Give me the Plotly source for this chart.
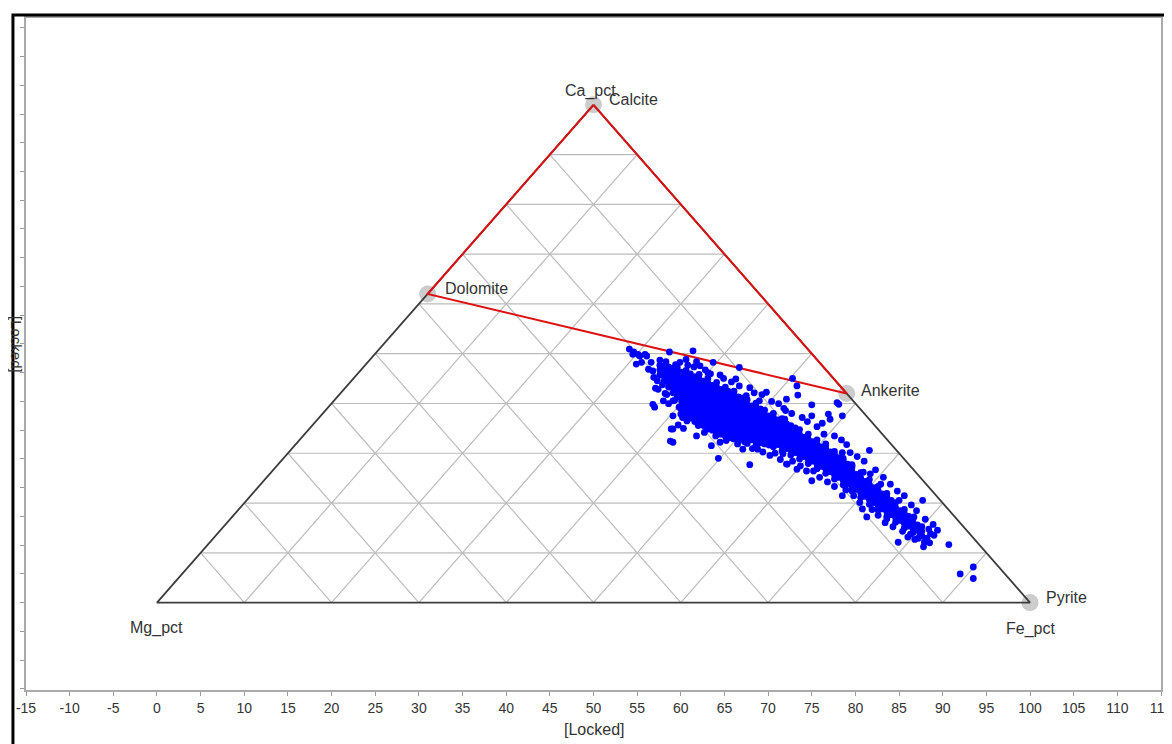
import math
import plotly.graph_objects as go

# ---------------- data ----------------
vertex_labels = ["Ca_pct", "Mg_pct", "Fe_pct"]
minerals = ["Calcite", "Dolomite", "Ankerite", "Pyrite"]
mineral_ca = [1.0, 0.62, 0.42, 0.0]
mineral_mg = [0.0, 0.38, 0.0, 0.0]
mineral_fe = [0.0, 0.0, 0.58, 1.0]

x_tickvals = list(range(-15, 120, 5))
x_ticktext = ["-15", "-10", "-5", "0", "5", "10", "15", "20", "25", "30", "35", "40",
              "45", "50", "55", "60", "65", "70", "75", "80", "85", "90", "95", "100",
              "105", "110", "115"]
y_tickvals = list(range(-15, 105, 5))

# dense core of samples (x position, list of y values)
core_x = [57.6, 58.1, 58.6, 59.1, 59.6, 60.1, 60.6, 61.1, 61.6, 62.1, 62.6, 63.1, 63.6,
          64.1, 64.6, 65.1, 65.6, 66.1, 66.6, 67.1, 67.6, 68.1, 68.6, 69.1, 69.6, 70.1,
          70.6, 71.1, 71.6, 72.1, 72.6, 73.1, 73.6, 74.1, 74.6, 75.1, 75.6, 76.1, 76.6,
          77.1, 77.6, 78.1, 78.6, 79.1, 79.6, 80.1, 80.6, 81.1, 81.6, 82.1, 82.6, 83.1,
          83.6, 84.1, 84.6, 85.1, 85.6, 86.1, 86.6, 87.1, 87.6]
core_y = [
    [39.6, 40.5, 41.3],
    [38.6, 39.5, 40.3, 41.1],
    [37.5, 38.4, 39.3, 40.1, 41.0],
    [36.5, 37.4, 38.3, 39.1, 40.0, 40.8],
    [35.8, 36.6, 37.5, 38.4, 39.2, 40.1, 40.9],
    [34.1, 35.0, 35.8, 36.7, 37.6, 38.4, 39.3, 40.1],
    [32.6, 33.5, 34.4, 35.2, 36.1, 36.9, 37.8, 38.7, 39.5, 40.4],
    [32.1, 33.0, 33.8, 34.6, 35.5, 36.4, 37.2, 38.1, 39.0, 39.8],
    [31.5, 32.4, 33.3, 34.1, 35.0, 35.9, 36.7, 37.6, 38.4, 39.3],
    [31.1, 32.0, 32.9, 33.7, 34.6, 35.5, 36.3, 37.2, 38.0, 38.9, 39.7],
    [30.8, 31.6, 32.5, 33.3, 34.2, 35.1, 35.9, 36.8, 37.6, 38.5],
    [30.4, 31.3, 32.1, 33.0, 33.9, 34.7, 35.6, 36.4, 37.3, 38.2, 39.0],
    [30.0, 30.9, 31.8, 32.6, 33.5, 34.4, 35.2, 36.1, 36.9, 37.8],
    [29.7, 30.6, 31.5, 32.3, 33.2, 34.0, 34.9, 35.8, 36.6, 37.5, 38.3],
    [29.3, 30.2, 31.1, 31.9, 32.8, 33.7, 34.5, 35.4, 36.2, 37.1],
    [29.0, 29.9, 30.7, 31.6, 32.4, 33.3, 34.2, 35.0, 35.9, 36.7, 37.5],
    [28.7, 29.6, 30.4, 31.3, 32.1, 33.0, 33.9, 34.7, 35.6, 36.4],
    [29.2, 30.1, 31.0, 31.8, 32.7, 33.5, 34.4, 35.2, 36.1, 36.8],
    [28.2, 29.0, 29.8, 30.7, 31.5, 32.4, 33.2, 34.1, 34.9, 35.8],
    [28.8, 29.6, 30.5, 31.3, 32.2, 33.0, 33.9, 34.7, 35.6],
    [27.7, 28.5, 29.3, 30.2, 31.0, 31.9, 32.7, 33.6, 34.4, 35.3],
    [28.3, 29.1, 30.0, 30.8, 31.7, 32.5, 33.4, 34.2],
    [27.3, 28.1, 28.9, 29.8, 30.6, 31.5, 32.3, 33.2, 34.0, 34.7],
    [27.8, 28.6, 29.5, 30.3, 31.2, 32.0, 32.9, 33.7],
    [27.6, 28.4, 29.3, 30.1, 31.0, 31.8, 32.7, 33.5],
    [27.4, 28.2, 29.1, 29.9, 30.8, 31.6, 32.5],
    [27.1, 27.9, 28.8, 29.6, 30.5, 31.3, 32.2, 32.9],
    [27.5, 28.4, 29.2, 30.1, 30.9, 31.8],
    [26.4, 27.2, 28.1, 28.9, 29.8, 30.6, 31.5, 32.0],
    [26.8, 27.7, 28.5, 29.4, 30.2, 31.1],
    [25.7, 26.5, 27.4, 28.2, 29.1, 29.9, 30.8],
    [26.1, 27.0, 27.8, 28.7, 29.5, 30.4],
    [25.0, 25.8, 26.7, 27.5, 28.4, 29.2, 30.1],
    [25.4, 26.3, 27.1, 28.0, 28.8],
    [24.2, 25.0, 25.9, 26.7, 27.6, 28.4, 29.3],
    [24.6, 25.5, 26.3, 27.2, 28.0],
    [23.3, 24.1, 25.0, 25.8, 26.7, 27.5, 28.3],
    [23.7, 24.6, 25.4, 26.3, 27.1],
    [22.5, 23.3, 24.2, 25.0, 25.9, 26.7, 27.3],
    [22.8, 23.7, 24.5, 25.4, 26.2],
    [21.5, 22.3, 23.2, 24.0, 24.9, 25.7, 26.3],
    [21.8, 22.7, 23.5, 24.4, 25.2],
    [20.5, 21.3, 22.2, 23.0, 23.9, 24.7, 25.1],
    [20.7, 21.6, 22.4, 23.3, 24.1],
    [19.4, 20.2, 21.1, 21.9, 22.8, 23.6, 24.0],
    [19.7, 20.6, 21.4, 22.3],
    [18.3, 19.1, 20.0, 20.8, 21.7, 22.6],
    [18.5, 19.4, 20.2, 21.1],
    [17.1, 17.9, 18.8, 19.6, 20.5, 21.4],
    [17.4, 18.3, 19.1, 20.0],
    [16.1, 16.9, 17.8, 18.6, 19.5, 20.2],
    [16.3, 17.2, 18.0, 18.9],
    [15.0, 15.8, 16.7, 17.5, 18.3, 19.0],
    [15.3, 16.2, 17.0, 17.8],
    [14.0, 14.8, 15.7, 16.5, 17.4],
    [14.3, 15.2, 16.0],
    [13.0, 13.8, 14.7, 15.5, 16.2],
    [13.3, 14.2, 15.0],
    [12.2, 13.0, 13.8, 14.6],
    [12.7, 13.5],
    [11.6, 12.4, 13.2],
]

# scattered samples around the core
scatter_x = [54.1, 54.5, 55.1, 55.9, 54.9, 55.5, 56.6, 56.8, 57.6, 58.7, 61.4, 61.8, 66.7,
             72.8, 73.4, 72.1, 69.8, 66.7, 65.4, 64.5, 63.1, 57.4, 57.1, 56.8, 57.0, 58.0,
             59.1, 59.1, 59.1, 59.1, 59.7, 60.3, 61.8, 63.1, 63.5, 64.3, 64.5, 66.0, 67.1,
             67.9, 68.8, 70.2, 71.7, 72.1, 70.6, 67.5, 69.0, 59.9, 60.6, 62.2, 63.7, 60.1,
             61.0, 75.0, 78.1, 78.5, 76.9, 77.1, 75.0, 72.0, 72.7, 71.9, 76.4, 76.6, 78.5,
             79.4, 81.6, 72.2, 73.3, 75.0, 75.2, 78.5, 80.8, 81.3, 83.6, 85.0, 86.7, 87.7,
             84.9, 86.0, 87.4, 88.4, 89.0, 87.8, 87.9, 90.7, 92.0, 93.5, 93.5, 81.7, 79.6,
             82.9, 80.9, 88.6, 88.2, 86.8, 73.3, 77.9, 54.6, 55.3, 56.1, 58.9, 58.8,
             58.3, 59.4, 60.8, 61.5, 62.8, 63.4, 64.9, 65.8, 66.3, 67.9, 68.4, 69.3, 70.4,
             71.2, 71.8, 73.9, 74.5, 75.6, 76.2, 77.6, 78.4, 79.0, 80.2, 81.0, 82.3, 83.2,
             84.0, 84.8, 85.6, 86.4, 87.0, 88.0, 88.9, 89.4,
             58.2, 58.6, 60.0, 60.7, 62.0, 62.7, 64.0, 65.2, 66.5, 67.3, 68.2, 69.4, 70.8,
             71.4, 72.8, 73.7, 74.4, 75.9, 76.8, 77.6, 78.9, 79.8, 80.5, 81.9, 82.6, 83.4,
             84.3, 85.4, 86.3, 87.2, 88.5,
             57.9, 58.4, 59.3, 59.8, 60.4, 56.3, 56.9, 57.3, 60.2]
scatter_y = [44.1, 43.2, 43.2, 43.2, 41.5, 41.8, 41.8, 40.3, 42.2, 43.6, 43.8, 41.9, 40.9,
             39.0, 36.1, 35.4, 36.6, 37.7, 36.8, 39.6, 40.0, 37.1, 37.3, 34.5, 34.0, 35.1,
             35.1, 32.5, 30.2, 27.9, 30.9, 30.3, 29.0, 30.2, 27.3, 25.1, 27.9, 28.5, 26.7,
             24.0, 26.7, 25.6, 25.9, 24.1, 27.4, 36.0, 35.1, 41.8, 42.3, 41.2, 41.8, 33.4,
             32.8, 34.4, 34.5, 32.5, 32.8, 31.9, 32.5, 33.4, 32.9, 31.9, 29.3, 27.6, 26.1,
             26.1, 26.5, 24.1, 23.2, 21.2, 22.9, 18.6, 16.3, 14.9, 14.6, 17.8, 14.9, 17.8,
             10.5, 11.4, 12.0, 12.8, 11.7, 9.7, 10.5, 10.1, 5.0, 6.2, 4.2, 22.4, 23.8,
             20.6, 22.7, 12.0, 11.2, 11.0, 37.7, 34.8, 43.6, 42.9, 42.9, 30.2, 28.1,
             41.9, 41.4, 41.3, 41.0, 40.5, 39.8, 39.0, 38.4, 38.9, 37.4, 36.5, 36.2, 35.0,
             34.6, 33.8, 32.2, 31.5, 30.6, 31.2, 29.0, 28.3, 27.5, 25.4, 24.6, 23.1, 21.8,
             20.6, 19.4, 18.6, 17.0, 16.0, 14.5, 13.6, 12.6,
             36.4, 34.6, 32.8, 31.6, 30.8, 29.6, 29.0, 28.2, 27.6, 28.0, 26.8, 26.2, 26.0,
             24.9, 24.6, 23.8, 22.9, 21.8, 21.0, 20.2, 19.6, 18.6, 17.4, 16.2, 15.2, 13.9,
             13.2, 12.4, 11.9, 11.2, 10.4,
             37.9, 36.2, 35.2, 34.0, 33.3, 40.6, 39.2, 38.6, 32.2]

# ---------------- helpers ----------------
H = 100 * math.sqrt(3) / 2


def tern_xy(ca, mg, fe):
    s = ca + mg + fe
    return 100 * fe / s + 50 * ca / s, H * ca / s


sample_x, sample_y = [], []
for cx, ys in zip(core_x, core_y):
    for yv in ys:
        sample_x.append(cx)
        sample_y.append(yv)
sample_x += scatter_x
sample_y += scatter_y

# ternary grid lines at 10% steps
gx, gy = [], []
for k in range(1, 10):
    f = k / 10
    for a, b in [((f, 1 - f, 0), (f, 0, 1 - f)),      # constant Ca
                 ((0, 1 - f, f), (1 - f, 0, f)),      # constant Fe
                 ((0, f, 1 - f), (1 - f, f, 0))]:     # constant Mg
        p, q = tern_xy(*a), tern_xy(*b)
        gx += [p[0], q[0], None]
        gy += [p[1], q[1], None]

corner = [tern_xy(1, 0, 0), tern_xy(0, 1, 0), tern_xy(0, 0, 1)]
mxy = [tern_xy(c, m, f) for c, m, f in zip(mineral_ca, mineral_mg, mineral_fe)]

fig = go.Figure()
fig.add_trace(go.Scatter(x=gx, y=gy, mode="lines", line=dict(color="#bcbcbc", width=1.2),
                         hoverinfo="skip"))
fig.add_trace(go.Scatter(x=[p[0] for p in mxy], y=[p[1] for p in mxy], mode="markers",
                         marker=dict(size=17, color="#cccccc"), hoverinfo="skip"))
tri = corner + [corner[0]]
fig.add_trace(go.Scatter(x=[p[0] for p in tri], y=[p[1] for p in tri], mode="lines",
                         line=dict(color="#3c3c3c", width=1.8), hoverinfo="skip"))
red = [mxy[0], mxy[1], mxy[2], mxy[0]]
fig.add_trace(go.Scatter(x=[p[0] for p in red], y=[p[1] for p in red], mode="lines",
                         line=dict(color="#dd1111", width=2), hoverinfo="skip"))
fig.add_trace(go.Scatter(x=sample_x, y=sample_y, mode="markers",
                         marker=dict(size=6.8, color="#0000ff", line=dict(width=0))))

font_family = "Liberation Sans, Arial, sans-serif"
lab_font = dict(family=font_family, size=16, color="#333333")
ann = []
# vertex labels
ann.append(dict(x=corner[0][0], y=corner[0][1], text=vertex_labels[0], xanchor="center",
                yanchor="middle", xshift=-3, yshift=14, showarrow=False, font=lab_font))
ann.append(dict(x=corner[1][0], y=corner[1][1], text=vertex_labels[1], xanchor="center",
                yanchor="middle", yshift=-25, showarrow=False, font=lab_font))
ann.append(dict(x=corner[2][0], y=corner[2][1], text=vertex_labels[2], xanchor="center",
                yanchor="middle", yshift=-26, showarrow=False, font=lab_font))
shifts = [(13, 5), (15, 5), (12, 3), (14, 5)]
for name, p, (dx, dy) in zip(minerals, mxy, shifts):
    ann.append(dict(x=p[0], y=p[1], text=name, xanchor="left", yanchor="middle",
                    xshift=dx, yshift=dy, showarrow=False, font=lab_font))
# axis titles
ann.append(dict(x=0.5, y=0, xref="paper", yref="paper", text="[Locked]", xanchor="center",
                yanchor="top", yshift=-29, showarrow=False, font=lab_font))
ann.append(dict(x=0, y=0.5, xref="paper", yref="paper", text="[Locked]", xanchor="center",
                yanchor="middle", xshift=-9, yshift=10, textangle=90, showarrow=False,
                font=dict(family=font_family, size=15, color="#333333")))

fig.update_layout(
    width=1172, height=744,
    margin=dict(l=16, r=16, t=8, b=62),
    paper_bgcolor="white", plot_bgcolor="white",
    showlegend=False,
    annotations=ann,
    shapes=[dict(type="rect", xref="paper", yref="paper", x0=-0.0115, x1=1.3,
                 y0=-0.5, y1=1.0045, line=dict(color="black", width=3), layer="above")],
    xaxis=dict(range=[-15, 115], tickvals=x_tickvals, ticktext=x_ticktext,
               ticks="outside", ticklen=4, tickcolor="#999999", showline=True,
               linecolor="#aaaaaa", linewidth=1.5, mirror=True, showgrid=False,
               zeroline=False, tickfont=dict(family=font_family, size=14, color="#333333")),
    yaxis=dict(range=[-15.2, 101.7], tickvals=y_tickvals, showticklabels=False,
               ticks="outside", ticklen=4, tickcolor="#999999", showline=True,
               linecolor="#aaaaaa", linewidth=1.5, mirror=True, showgrid=False,
               zeroline=False),
)

fig.write_html("out.html")
